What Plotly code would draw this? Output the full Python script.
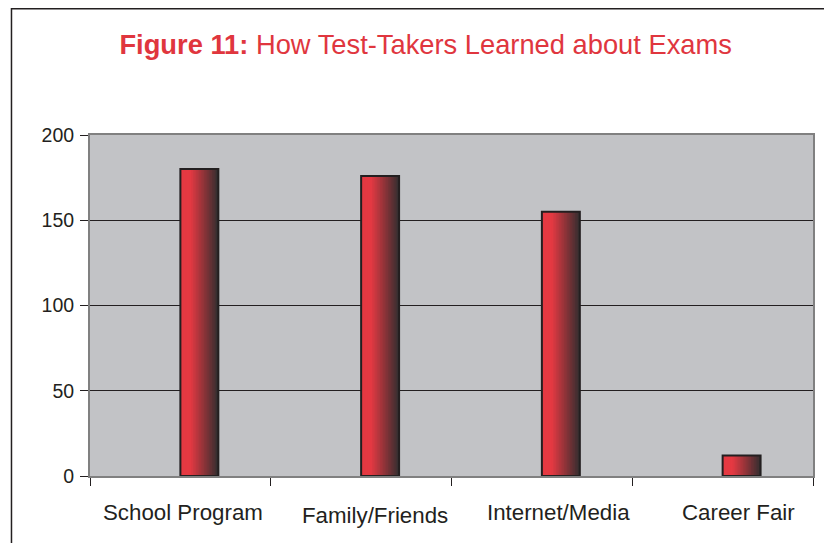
import plotly.graph_objects as go

categories = ["School Program", "Family/Friends", "Internet/Media", "Career Fair"]
values = [180, 176, 155, 12]
y_ticks = [0, 50, 100, 150, 200]

# small per-label nudges (pixels) to follow the original's label placement
label_dx = [3, 14, 17, 16]
label_dy = [-36, -39, -36, -36]

RED = (229, 57, 66)
DARK = (55, 46, 48)


def shade(t):
    # flat red on the left, fading to near-black on the right edge
    s = 0 if t < 0.25 else (t - 0.25) / 0.75
    r, g, b = [round(a + (c - a) * s) for a, c in zip(RED, DARK)]
    return f"rgb({r},{g},{b})"


fig = go.Figure()

bar_w = 0.21
n_slices = 24
for i in range(n_slices):
    start = i * bar_w / n_slices
    fig.add_trace(go.Bar(
        x=categories,
        y=values,
        offset=start,
        width=bar_w - start,
        marker=dict(color=shade(i / (n_slices - 1)), line=dict(width=0)),
        hoverinfo="skip",
        showlegend=False,
    ))

# outline on top of the gradient slices
fig.add_trace(go.Bar(
    x=categories,
    y=values,
    offset=0,
    width=bar_w,
    marker=dict(color="rgba(0,0,0,0)", line=dict(color="#231f20", width=2)),
    showlegend=False,
))

for cat, dx, dy in zip(categories, label_dx, label_dy):
    fig.add_annotation(
        x=cat, y=0, xref="x", yref="y",
        text=cat, showarrow=False,
        xanchor="center", yanchor="middle",
        xshift=dx, yshift=dy,
        font=dict(size=22.3, color="#231f20"),
    )

fig.update_layout(
    width=832,
    height=543,
    barmode="overlay",
    paper_bgcolor="white",
    plot_bgcolor="#c2c3c6",
    margin=dict(l=82, r=27, t=127, b=75),
    title=dict(
        text="<b>Figure 11:</b> How Test-Takers Learned about Exams",
        x=0.502,
        xanchor="center",
        y=0.932,
        yanchor="middle",
        font=dict(family="Liberation Sans, Arial", size=27.3, color="#e0363e"),
    ),
    font=dict(family="Liberation Sans, Arial", color="#231f20"),
)

fig.update_xaxes(
    type="category",
    tickson="boundaries",
    ticks="outside",
    ticklen=8,
    tickcolor="#231f20",
    showticklabels=False,
    showline=True,
    linecolor="#808080",
    linewidth=2,
    mirror=True,
    showgrid=False,
)

fig.update_yaxes(
    range=[0, 200],
    tickvals=y_ticks,
    ticks="outside",
    ticklen=8,
    tickcolor="#231f20",
    tickfont=dict(size=19.5),
    ticklabelstandoff=2,
    showline=True,
    linecolor="#808080",
    linewidth=2,
    mirror=True,
    showgrid=True,
    gridcolor="#231f20",
    gridwidth=1,
    zeroline=False,
)

# thin frame around the whole figure
fig.add_shape(
    type="rect", xref="paper", yref="paper",
    x0=-0.1086, x1=1.2, y0=-0.4, y1=1.3702,
    line=dict(color="#231f20", width=1.5),
    fillcolor="rgba(0,0,0,0)",
    layer="above",
)

fig.write_html("out.html")
